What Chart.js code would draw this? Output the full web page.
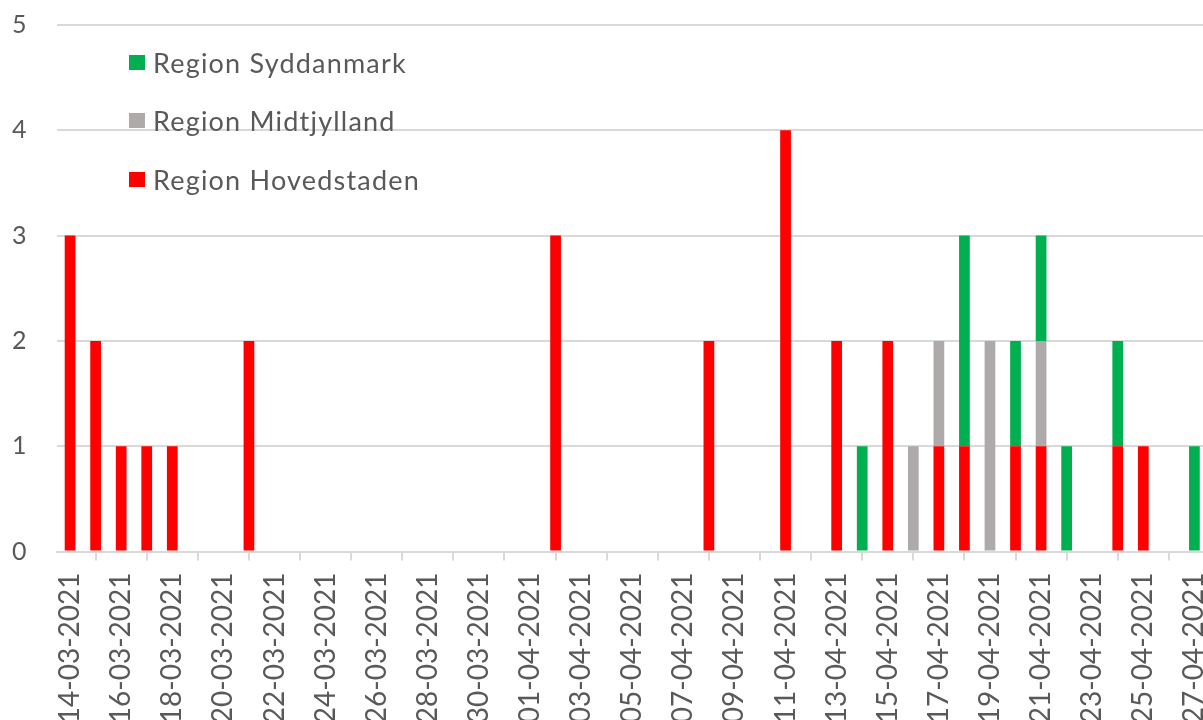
<!DOCTYPE html>
<html><head><meta charset="utf-8">
<script src="https://cdn.jsdelivr.net/npm/chart.js@4.4.1/dist/chart.umd.min.js"></script>
<style>
html,body{margin:0;padding:0;background:#fff;overflow:hidden;width:1203px;height:720px;}
#wrap{position:absolute;left:0;top:0;width:1240px;height:720px;}
#legend{position:absolute;left:129px;top:0;font-family:Lato,"Open Sans",sans-serif;font-size:27px;letter-spacing:1.2px;color:#595959;}
.item{position:absolute;left:0;white-space:nowrap;display:flex;align-items:center;height:30px;}
.sw{width:16px;height:15px;margin-right:8px;flex:none;}
</style></head><body>
<div id="wrap"><canvas id="c"></canvas></div>
<div id="legend"></div>
<script>
const dates = [
  '14-03-2021','15-03-2021','16-03-2021','17-03-2021','18-03-2021','19-03-2021','20-03-2021','21-03-2021',
  '22-03-2021','23-03-2021','24-03-2021','25-03-2021','26-03-2021','27-03-2021','28-03-2021','29-03-2021',
  '30-03-2021','31-03-2021','01-04-2021','02-04-2021','03-04-2021','04-04-2021','05-04-2021','06-04-2021',
  '07-04-2021','08-04-2021','09-04-2021','10-04-2021','11-04-2021','12-04-2021','13-04-2021','14-04-2021',
  '15-04-2021','16-04-2021','17-04-2021','18-04-2021','19-04-2021','20-04-2021','21-04-2021','22-04-2021',
  '23-04-2021','24-04-2021','25-04-2021','26-04-2021','27-04-2021'
];
const hovedstaden = [3,2,1,1,1,0,0,2, 0,0,0,0,0,0,0,0, 0,0,0,3,0,0,0,0, 0,2,0,0,4,0,2,0, 2,0,1,1,0,1,1,0, 0,1,1,0,0];
const midtjylland = [0,0,0,0,0,0,0,0, 0,0,0,0,0,0,0,0, 0,0,0,0,0,0,0,0, 0,0,0,0,0,0,0,0, 0,1,1,0,2,0,1,0, 0,0,0,0,0];
const syddanmark  = [0,0,0,0,0,0,0,0, 0,0,0,0,0,0,0,0, 0,0,0,0,0,0,0,0, 0,0,0,0,0,0,0,1, 0,0,0,2,0,1,1,1, 0,1,0,0,1];
const seriesNames = ['Region Hovedstaden','Region Midtjylland','Region Syddanmark'];
const seriesColors = ['#ff0000','#aeaaaa','#00b050'];
const yMin = 0, yMax = 5, yStep = 1;

const textColor = '#595959';
const gridColor = '#d9d9d9';
const fontFamily = 'Lato, "Open Sans", sans-serif';

const seriesValues = [hovedstaden, midtjylland, syddanmark];
const datasets = seriesNames.map((name, i) => ({
  label: name,
  data: seriesValues[i],
  backgroundColor: seriesColors[i],
  borderWidth: 0,
  barPercentage: 0.42,
  categoryPercentage: 1.0
}));

const chart = new Chart(document.getElementById('c'), {
  type: 'bar',
  data: { labels: dates, datasets },
  options: {
    responsive: true,
    maintainAspectRatio: false,
    animation: false,
    layout: { padding: { top: 25, right: 0, left: 12, bottom: 0 } },
    plugins: { legend: { display: false }, tooltip: { enabled: false } },
    scales: {
      x: {
        stacked: true,
        offset: true,
        grid: { display: true, drawOnChartArea: false, drawTicks: true, tickLength: 9, color: gridColor, lineWidth: 2, offset: true },
        border: { display: true, color: gridColor, width: 2 },
        ticks: {
          autoSkip: false, maxRotation: 90, minRotation: 90, padding: 12,
          color: textColor, font: { family: fontFamily, size: 28 },
          callback: function (v, i) { return i % 2 === 0 ? this.getLabelForValue(v) : null; }
        },
        afterFit: (s) => { s.height = 168.5; }
      },
      y: {
        stacked: true,
        min: yMin, max: yMax,
        grid: { color: gridColor, lineWidth: 2, drawTicks: false },
        border: { display: false },
        ticks: { stepSize: yStep, padding: 0, crossAlign: 'far', color: textColor, font: { family: fontFamily, size: 25 } },
        afterFit: (s) => { s.width = 45.3; }
      }
    }
  }
});

// HTML legend built from the chart's datasets (reverse order, as in the reference)
const legendEl = document.getElementById('legend');
const rowCenters = [62, 120, 179];
chart.data.datasets.slice().reverse().forEach((ds, k) => {
  const it = document.createElement('div');
  it.className = 'item';
  it.style.top = (rowCenters[k] - 15) + 'px';
  const sw = document.createElement('span');
  sw.className = 'sw';
  sw.style.background = ds.backgroundColor;
  const tx = document.createElement('span');
  tx.textContent = ds.label;
  it.appendChild(sw); it.appendChild(tx);
  legendEl.appendChild(it);
});
</script>
</body></html>
